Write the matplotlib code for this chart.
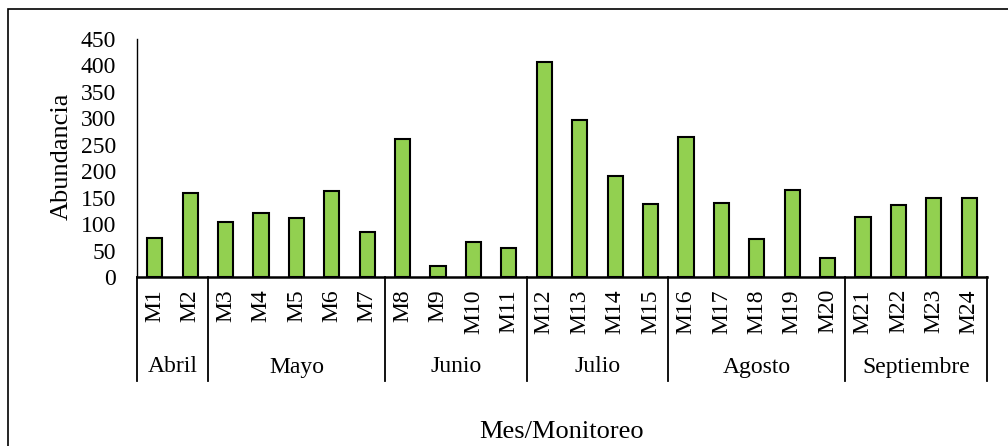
import matplotlib
matplotlib.use("Agg")
import matplotlib.pyplot as plt
from matplotlib.transforms import blended_transform_factory
from matplotlib.patches import Rectangle

plt.rcParams['font.family'] = ['Liberation Serif', 'DejaVu Serif']

muestras = [f"M{i}" for i in range(1, 25)]
abundancia = [74, 158, 104, 121, 111, 162, 85, 261, 21, 67, 55, 406,
              297, 190, 138, 264, 140, 71, 164, 36, 113, 136, 150, 150]
meses = ["Abril", "Mayo", "Junio", "Julio", "Agosto", "Septiembre"]
n_por_mes = [2, 5, 4, 4, 5, 4]
y_ticks = list(range(0, 451, 50))

W, H = 1008, 446
fig = plt.figure(figsize=(W / 100, H / 100), dpi=100)
ax = fig.add_axes([137 / W, (H - 277) / H, (987 - 137) / W, (277 - 38.7) / H])

x = list(range(len(muestras)))
ax.bar(x, abundancia, width=0.43, color="#92D050", edgecolor="black", linewidth=1.5, zorder=3)
ax.set_xlim(-0.5, len(muestras) - 0.5)
ax.set_ylim(0, 450)
ax.set_yticks(y_ticks)
ax.set_yticklabels([str(v) for v in y_ticks], fontsize=17)
ax.tick_params(axis='y', length=0, pad=15)
ax.set_xticks([])
for s in ["top", "right"]:
    ax.spines[s].set_visible(False)
ax.spines["left"].set_linewidth(1.0)
ax.spines["bottom"].set_linewidth(1.8)

tr = blended_transform_factory(ax.transData, fig.transFigure)
def fy(py):
    return (H - py) / H

for xi, lab in zip(x, muestras):
    ax.text(xi, fy(289), lab, rotation=90, ha="center", va="top", fontsize=17,
            transform=tr, clip_on=False)

start = 0
bounds = [-0.5]
for mes, n in zip(meses, n_por_mes):
    centre = start + (n - 1) / 2
    ax.text(centre, fy(367), mes, ha="center", va="center", fontsize=17,
            transform=tr, clip_on=False)
    start += n
    bounds.append(start - 0.5)
for b in bounds:
    ax.plot([b, b], [fy(277), fy(381)], color="black", linewidth=1.3,
            transform=tr, clip_on=False)

fig.text(62 / W, fy(156), "Abundancia", rotation=90, ha="center", va="center", fontsize=19)
fig.text(562 / W, fy(432), "Mes/Monitoreo", ha="center", va="center", fontsize=19)

fig.patches.append(Rectangle((7.5 / W, -0.1), 1.2, fy(9) + 0.1, transform=fig.transFigure,
                             fill=False, edgecolor="black", linewidth=1.2))

fig.savefig("out.png", dpi=100)
